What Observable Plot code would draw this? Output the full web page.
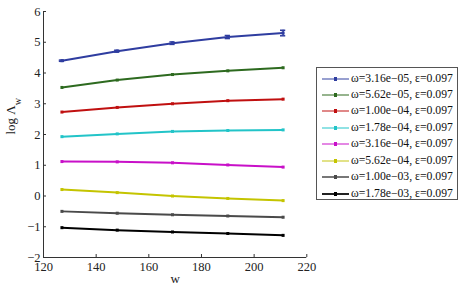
<!DOCTYPE html>
<html><head><meta charset="utf-8">
<script src="https://cdn.jsdelivr.net/npm/d3@7"></script>
<script src="https://cdn.jsdelivr.net/npm/@observablehq/plot@0.6"></script>
<style>
body{margin:0;background:#fff;}
#wrap{position:relative;width:467px;height:290px;font-family:"Liberation Serif","DejaVu Serif",serif;}
#legend{position:absolute;left:316px;top:67px;width:142px;height:133px;border:1px solid #555;box-sizing:border-box;background:#fff;}
.row{position:absolute;left:0;height:16px;font-size:11.7px;color:#111;white-space:nowrap;}
.row .ln{position:absolute;left:5px;top:7px;width:27px;height:2px;}
.row .mk{position:absolute;left:17px;top:6px;width:3px;height:4px;}
.row .tx{position:absolute;left:34px;top:0;line-height:16px;}
</style></head>
<body><div id="wrap"></div>
<script>
const wValues = [127, 148, 169, 190, 211];
const labels = [
  "ω=3.16e−05, ε=0.097",
  "ω=5.62e−05, ε=0.097",
  "ω=1.00e−04, ε=0.097",
  "ω=1.78e−04, ε=0.097",
  "ω=3.16e−04, ε=0.097",
  "ω=5.62e−04, ε=0.097",
  "ω=1.00e−03, ε=0.097",
  "ω=1.78e−03, ε=0.097"
];
const colors = ["#2f3da0", "#2d6a1f", "#c01010", "#22c4c8", "#c810c8", "#c4c400", "#4a4a4a", "#000000"];
const legendColors = ["#98a0d0", "#96b48e", "#e08888", "#90e2e4", "#e488e4", "#e2e288", "#777777", "#222222"];
const s1 = [4.40, 4.71, 4.97, 5.17, 5.30];
const s2 = [3.53, 3.77, 3.95, 4.07, 4.17];
const s3 = [2.73, 2.88, 3.00, 3.10, 3.15];
const s4 = [1.93, 2.02, 2.10, 2.13, 2.15];
const s5 = [1.12, 1.11, 1.08, 1.01, 0.94];
const s6 = [0.21, 0.11, 0.00, -0.08, -0.15];
const s7 = [-0.50, -0.56, -0.61, -0.65, -0.69];
const s8 = [-1.03, -1.11, -1.17, -1.22, -1.28];
const s1Err = [0.02, 0.03, 0.04, 0.05, 0.09];
const series = [s1, s2, s3, s4, s5, s6, s7, s8];
const xTicks = [120, 140, 160, 180, 200, 220];
const yTicks = [-2, -1, 0, 1, 2, 3, 4, 5, 6];

const data = [];
series.forEach((vals, i) => vals.forEach((v, j) => data.push({s: labels[i], w: wValues[j], v})));
const errData = s1.map((v, j) => ({w: wValues[j], lo: v - s1Err[j], hi: v + s1Err[j]}));

const fmt = d => String(d).replace("-", "−");
const chart = Plot.plot({
  width: 467, height: 290,
  marginLeft: 43, marginRight: 160.7, marginTop: 11, marginBottom: 33,
  style: {fontFamily: "Liberation Serif, DejaVu Serif, serif", fontSize: "12px", color: "#222", background: "#fff"},
  x: {domain: [120, 220]},
  y: {domain: [-2, 6]},
  color: {domain: labels, range: colors},
  marks: [
    Plot.ruleX([120], {stroke: "#333", strokeWidth: 1}),
    Plot.ruleY([-2], {stroke: "#333", strokeWidth: 1}),
    Plot.axisX({ticks: xTicks, tickSize: -3, tickPadding: 8, tickFormat: fmt, label: null, stroke: "#333", fontSize: 12.5}),
    Plot.axisY({ticks: yTicks, tickSize: -3, tickPadding: 6, tickFormat: fmt, label: null, stroke: "#333", fontSize: 12.5}),
    Plot.line(data, {x: "w", y: "v", z: "s", stroke: "s", strokeWidth: 2}),
    Plot.ruleX(errData, {x: "w", y1: "lo", y2: "hi", stroke: colors[0], strokeWidth: 1.5}),
    Plot.ruleY(errData, {y: "lo", x1: d => d.w - 1, x2: d => d.w + 1, stroke: colors[0], strokeWidth: 1.5}),
    Plot.ruleY(errData, {y: "hi", x1: d => d.w - 1, x2: d => d.w + 1, stroke: colors[0], strokeWidth: 1.5}),
    Plot.dot(data, {x: "w", y: "v", fill: "s", symbol: "square", r: 1.7}),
    Plot.text(["w"], {frameAnchor: "bottom", dy: 25, fontSize: 13, fill: "#222"}),
    Plot.text(["log Λw"], {frameAnchor: "left", dx: -33, rotate: -90, fontSize: 13, fill: "#222"})
  ]
});
document.getElementById("wrap").appendChild(chart);

// subscript for y label
d3.select(chart).selectAll("text").each(function() {
  const t = d3.select(this);
  if (t.text() === "log Λw") {
    t.text(null);
    t.append("tspan").text("log Λ");
    t.append("tspan").attr("baseline-shift", "sub").attr("font-size", "10px").text("w");
  }
});

const legend = document.createElement("div");
legend.id = "legend";
labels.forEach((lab, i) => {
  const r = document.createElement("div");
  r.className = "row";
  r.style.top = (2.5 + i * 16.45) + "px";
  r.innerHTML = `<div class="ln" style="background:${legendColors[i]}"></div><div class="mk" style="background:${colors[i]}"></div><div class="tx">${lab}</div>`;
  legend.appendChild(r);
});
document.getElementById("wrap").appendChild(legend);
</script>
</body></html>
